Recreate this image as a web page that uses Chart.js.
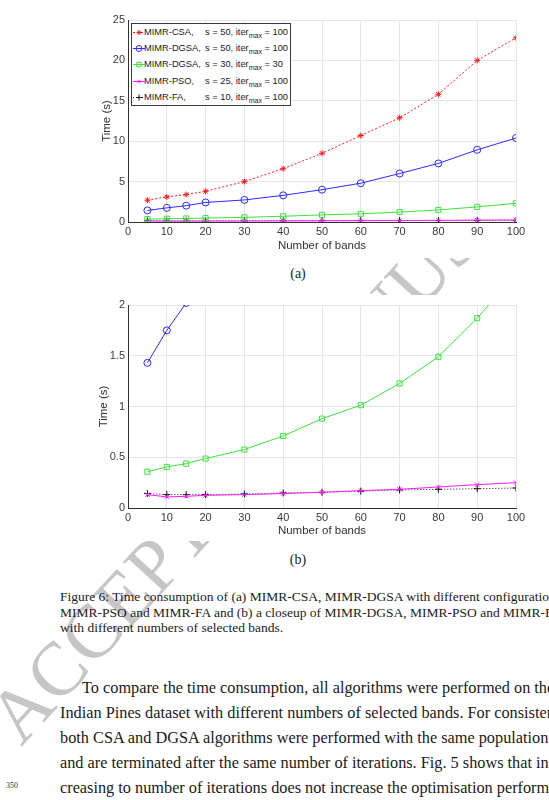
<!DOCTYPE html>
<html>
<head>
<meta charset="utf-8">
<script src="https://cdn.jsdelivr.net/npm/chart.js@4.4.0/dist/chart.umd.min.js"></script>
<style>
  html, body { margin: 0; padding: 0; background: #fff; }
  #page { position: relative; width: 549px; height: 800px; overflow: hidden; background: #fff; }
  .wm {
    position: absolute; left: 30px; top: 679px; width: 1400px; height: 76px; line-height: 76px;
    font-family: "Liberation Serif", serif; font-size: 76px; color: #c6c6c6;
    white-space: nowrap; transform-origin: 0 100%; transform: rotate(-47.5deg); z-index: 0;
  }
  .fig { position: absolute; background: #fff; z-index: 1; }
  .legend {
    position: absolute; left: 131px; top: 23px; width: 158px; height: 81px;
    border: 1px solid #3a3a3a; background: #fff; z-index: 2;
    font-family: "Liberation Sans", Arial, sans-serif; font-size: 9.3px; color: #222;
  }
  .legend .row { height: 16.2px; line-height: 16.2px; white-space: nowrap; position: relative; }
  .legend canvas { position: absolute; left: 1px; top: 3px; }
  .legend .name { display: inline-block; width: 61px; margin-left: 12px; }
  .legend sub { font-size: 7px; vertical-align: -3px; line-height: 0; }
  .sub-label { position: absolute; left: 278px; width: 40px; text-align: center; z-index: 3;
    font-family: "Liberation Serif", serif; font-size: 14px; line-height: 16px; color: #222; }
  .caption { position: absolute; left: 60px; top: 589px; width: 700px; z-index: 3;
    font-family: "Liberation Serif", serif; font-size: 13.5px; line-height: 15.5px; color: #222; }
  .caption div, .body div { white-space: nowrap; }
  .body { position: absolute; left: 60px; top: 675px; width: 700px; z-index: 3;
    font-family: "Liberation Serif", serif; font-size: 16.3px; line-height: 25px; color: #1a1a1a; }
  .lineno { position: absolute; left: 6px; top: 781px; z-index: 3;
    font-family: "Liberation Serif", serif; font-size: 8px; color: #333; }
</style>
</head>
<body>
<div id="page">
  <div class="wm">ACCEPTED MANUSCRIPT</div>

  <div class="fig" style="left:96px; top:10px; width:453px; height:248px;">
    <canvas id="chartA" width="453" height="248"></canvas>
  </div>
  <div class="legend" id="legendA"></div>
  <div class="sub-label" style="top:266px;">(a)</div>

  <div class="fig" style="left:93px; top:295px; width:456px; height:246px;">
    <canvas id="chartB" width="456" height="248"></canvas>
  </div>
  <div class="sub-label" style="top:552px;">(b)</div>

  <div class="caption">
    <div>Figure 6: Time consumption of (a) MIMR-CSA, MIMR-DGSA with different configurations,</div>
    <div>MIMR-PSO and MIMR-FA and (b) a closeup of MIMR-DGSA, MIMR-PSO and MIMR-FA</div>
    <div>with different numbers of selected bands.</div>
  </div>

  <div class="body">
    <div style="text-indent:22px;">To compare the time consumption, all algorithms were performed on the</div>
    <div>Indian Pines dataset with different numbers of selected bands. For consistency,</div>
    <div>both CSA and DGSA algorithms were performed with the same population size</div>
    <div>and are terminated after the same number of iterations. Fig. 5 shows that in-</div>
    <div>creasing to number of iterations does not increase the optimisation performance</div>
  </div>
  <div class="lineno">350</div>
</div>

<script>
// Datos
const bands = [5, 10, 15, 20, 30, 40, 50, 60, 70, 80, 90, 100];
const csa50 = [2.7, 3.1, 3.4, 3.8, 5.0, 6.6, 8.5, 10.7, 12.9, 15.8, 20.0, 22.8];
const dgsa50 = [1.43, 1.75, 2.02, 2.42, 2.73, 3.3, 4.0, 4.8, 6.0, 7.25, 8.93, 10.4];
const dgsa30 = [0.358, 0.405, 0.437, 0.487, 0.576, 0.71, 0.88, 1.013, 1.227, 1.49, 1.87, 2.31];
const pso25 = [0.132, 0.109, 0.115, 0.125, 0.132, 0.142, 0.155, 0.171, 0.184, 0.207, 0.23, 0.25];
const fa10 = [0.142, 0.132, 0.132, 0.132, 0.138, 0.148, 0.155, 0.166, 0.178, 0.184, 0.19, 0.197];

const seriesNames = ['MIMR-CSA,', 'MIMR-DGSA,', 'MIMR-DGSA,', 'MIMR-PSO,', 'MIMR-FA,'];
const popSizes = [50, 50, 30, 25, 10];
const iterMax = [100, 100, 30, 100, 100];

const xTicks = { min: 0, max: 100, step: 10 };
const yTicksA = { min: 0, max: 25, step: 5 };
const yTicksB = { min: 0, max: 2, step: 0.5 };

function pts(values) {
    return bands.map((b, i) => ({ x: b, y: values[i] }));
}

function series(values, color, style, radius, dash) {
    return {
        data: pts(values),
        borderColor: color,
        backgroundColor: 'transparent',
        borderWidth: 1,
        borderDash: dash,
        pointStyle: style,
        pointRadius: radius,
        pointBorderColor: color,
        pointBackgroundColor: 'transparent',
        pointBorderWidth: 1,
        tension: 0
    };
}

const sCSA = () => series(csa50, '#ff1a1a', 'star', 3, [2, 2]);
const sDG50 = () => series(dgsa50, '#2b2bff', 'circle', 3.5, []);
const sDG30 = () => series(dgsa30, '#3ee03e', 'rect', 3.6, []);
const sPSO = () => series(pso25, '#ff1aff', 'crossRot', 3, []);
const sFA = () => series(fa10, '#111111', 'cross', 3.5, [1, 2]);

const axisFont = { family: '"Liberation Sans", Arial, sans-serif', size: 11 };
const titleFont = { family: '"Liberation Sans", Arial, sans-serif', size: 11.5 };

function makeOptions(yT, yWidth, xHeight, padRight) {
    return {
        responsive: false,
        animation: false,
        layout: { padding: { top: 10, right: padRight, bottom: 1, left: 0 } },
        plugins: { legend: { display: false }, tooltip: { enabled: false } },
        scales: {
            x: {
                type: 'linear', min: xTicks.min, max: xTicks.max,
                ticks: { stepSize: xTicks.step, color: '#3a3a3a', font: axisFont, padding: 3, maxRotation: 0 },
                grid: { color: '#e6e6e6', drawTicks: false },
                border: { display: true, color: '#303030', width: 1 },
                title: { display: true, text: 'Number of bands', color: '#333', font: titleFont, padding: 4 },
                afterFit: (s) => { s.height = xHeight; }
            },
            y: {
                min: yT.min, max: yT.max,
                ticks: {
                    stepSize: yT.step, color: '#3a3a3a', font: axisFont, padding: 3,
                    callback: (v) => String(Number(v.toFixed(2)))
                },
                grid: { color: '#e6e6e6', drawTicks: false },
                border: { display: true, color: '#303030', width: 1 },
                title: { display: true, text: 'Time (s)', color: '#333', font: titleFont, padding: 4 },
                afterFit: (s) => { s.width = yWidth; }
            }
        }
    };
}

const chartA = new Chart(document.getElementById('chartA').getContext('2d'), {
    type: 'line',
    data: { datasets: [sCSA(), sDG50(), sDG30(), sPSO(), sFA()] },
    options: makeOptions(yTicksA, 32, 35, 33)
});

const chartB = new Chart(document.getElementById('chartB').getContext('2d'), {
    type: 'line',
    data: { datasets: [sDG50(), sDG30(), sPSO(), sFA()] },
    options: makeOptions(yTicksB, 35, 34, 33)
});

// leyenda en HTML (para el subindice "max")
const legendBox = document.getElementById('legendA');
chartA.data.datasets.forEach((ds, i) => {
    const row = document.createElement('div');
    row.className = 'row';
    const c = document.createElement('canvas');
    c.width = 12; c.height = 10;
    const g = c.getContext('2d');
    g.strokeStyle = ds.borderColor;
    g.lineWidth = 1;
    g.setLineDash(ds.borderDash);
    g.beginPath(); g.moveTo(0, 5.5); g.lineTo(12, 5.5); g.stroke();
    g.setLineDash([]);
    g.fillStyle = 'transparent';
    Chart.helpers.drawPoint(g, { pointStyle: ds.pointStyle, radius: ds.pointRadius * 0.85, rotation: 0, borderWidth: 1 }, 6, 5.5);
    row.appendChild(c);
    const name = document.createElement('span');
    name.className = 'name';
    name.textContent = seriesNames[i];
    row.appendChild(name);
    const rest = document.createElement('span');
    rest.innerHTML = 's = ' + popSizes[i] + ', iter<sub>max</sub> = ' + iterMax[i];
    row.appendChild(rest);
    legendBox.appendChild(row);
});
</script>
</body>
</html>
